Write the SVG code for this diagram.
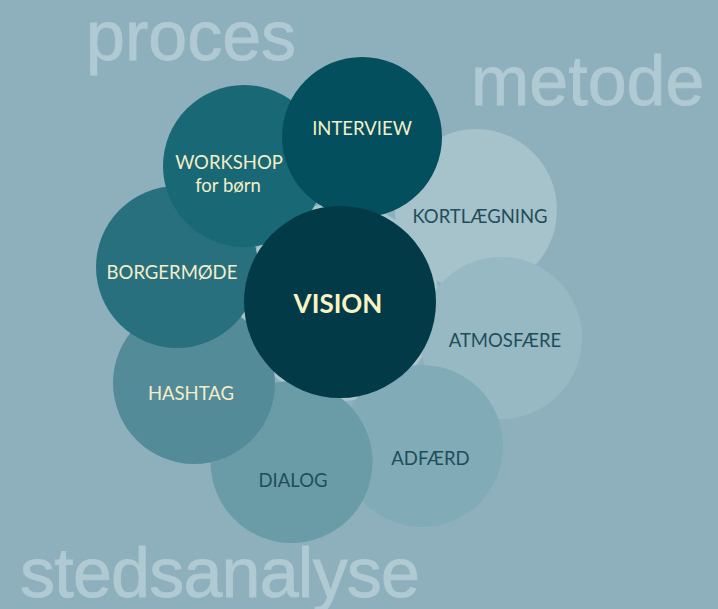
<svg xmlns="http://www.w3.org/2000/svg" width="718" height="609" viewBox="0 0 718 609">
<style>
.title{font-family:"Liberation Sans",Arial,sans-serif;font-size:70px;fill:#B0CAD3;stroke:#B0CAD3;stroke-width:0.8}
.lbl{font-family:Lato,"Noto Sans",sans-serif;font-size:18.5px;text-anchor:middle}
.light{fill:#F3EEC9}
.dark{fill:#1F4E5B}
.vis{font-family:Lato,"Noto Sans",sans-serif;font-size:26px;font-weight:bold;text-anchor:middle;fill:#FAF2C2}
</style>
<rect width="718" height="609" fill="#8DB0BC"/>
<text class="title" x="86" y="60">proces</text>
<text class="title" x="471" y="105">metode</text>
<text class="title" x="20" y="597" textLength="400">stedsanalyse</text>
<circle cx="340" cy="302" r="99" fill="#A9C5CE"/>
<g id="kortlaegning">
<circle cx="476" cy="210" r="81" fill="#A6C2CB"/>
<text class="lbl dark" x="480" y="222.5">KORTLÆGNING</text>
</g>
<g id="atmosfaere">
<circle cx="501" cy="338" r="81" fill="#97B9C3"/>
<text class="lbl dark" x="505" y="346.5">ATMOSFÆRE</text>
</g>
<g id="adfaerd">
<circle cx="422" cy="446" r="81" fill="#81ABB7"/>
<text class="lbl dark" x="430.5" y="465">ADFÆRD</text>
</g>
<g id="dialog">
<circle cx="291.5" cy="462" r="81" fill="#6A9CA8"/>
<text class="lbl dark" x="293" y="487">DIALOG</text>
</g>
<g id="hashtag">
<circle cx="194" cy="383" r="81" fill="#538B99"/>
<text class="lbl light" x="191" y="400">HASHTAG</text>
</g>
<g id="borgermoede">
<circle cx="177" cy="267" r="81" fill="#28707E"/>
<text class="lbl light" x="172" y="279">BORGERMØDE</text>
</g>
<g id="workshop">
<circle cx="244" cy="166" r="81" fill="#186875"/>
<text class="lbl light" x="229" y="169">WORKSHOP</text>
<text class="lbl light" x="228" y="191.5">for børn</text>
</g>
<g id="interview">
<circle cx="362" cy="137" r="80" fill="#034F5E"/>
<text class="lbl light" x="362" y="135">INTERVIEW</text>
</g>
<g id="vision">
<circle cx="340" cy="302" r="96" fill="#023A47"/>
<text class="vis" x="338" y="313">VISION</text>
</g>
</svg>
